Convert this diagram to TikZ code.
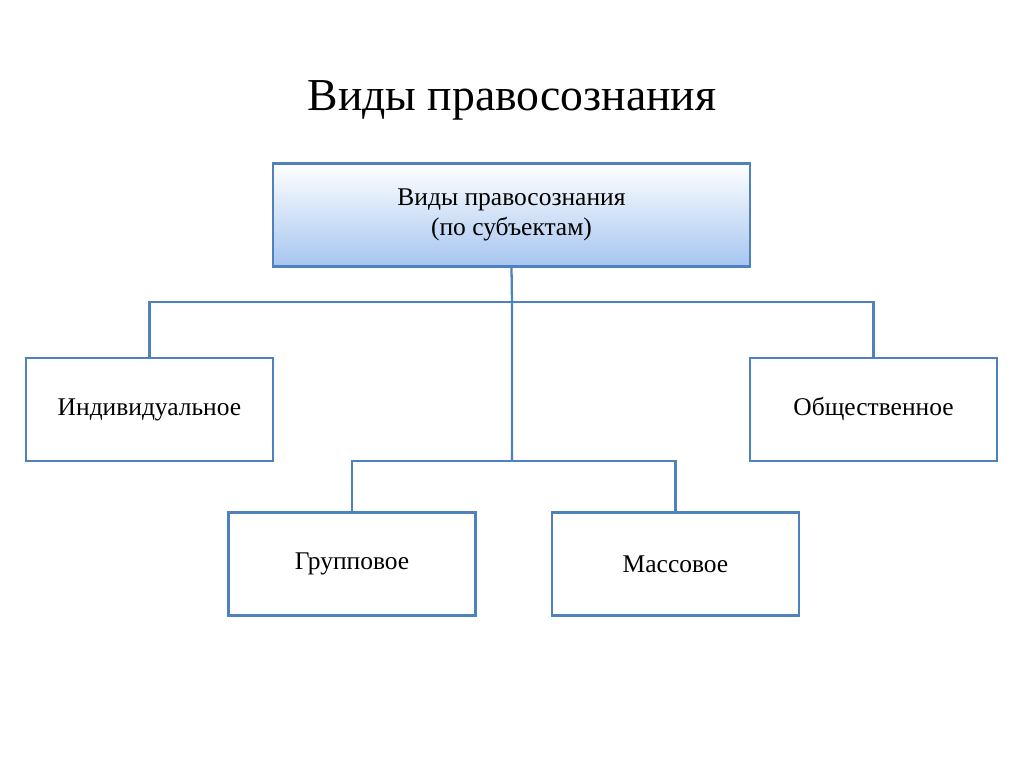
\documentclass[tikz,border=0pt]{standalone}
\usepackage{fontspec}
\setmainfont{Liberation Serif}
\usetikzlibrary{positioning,shadows}
\definecolor{boxline}{RGB}{79,129,189}
\definecolor{topfill}{RGB}{166,197,240}
\tikzset{
  kind/.style={draw=boxline, line width=1.3pt, fill=white, minimum width=4.94cm, minimum height=2.06cm, font=\fontsize{14.5}{17}\selectfont, drop shadow={opacity=0.25, shadow xshift=0.6pt, shadow yshift=-0.6pt}},
  link/.style={draw=boxline, line width=1.3pt}
}
\begin{document}
\begin{tikzpicture}[x=0.02cm, y=-0.02cm]
    \useasboundingbox (0,0) rectangle (1024,767);
    % Title
    \node[font=\fontsize{26}{30}\selectfont] (title) at (512,100) {Виды правосознания};
    % Nodes
    \node[kind, minimum width=9.54cm, top color=white, bottom color=topfill, align=center] (root) at (511.5,215) {Виды правосознания\\(по субъектам)};
    \node[kind] (indiv) at (149.5,409.5) {Индивидуальное};
    \node[kind] (social) at (873.5,409.5) {Общественное};
    \node[kind] (group) at (352,564) {Групповое};
    \node[kind] (mass) at (675.5,564) {Массовое};
    \coordinate (fork) at (512,302);
    \coordinate (subfork) at (512,461);
    % Connectors
    \draw[link] (root.south) -- (fork) -- (subfork);
    \draw[link] (indiv.north) |- (fork) -| (social.north);
    \draw[link] (group.north) |- (subfork) -| (mass.north);
\end{tikzpicture}
\end{document}
